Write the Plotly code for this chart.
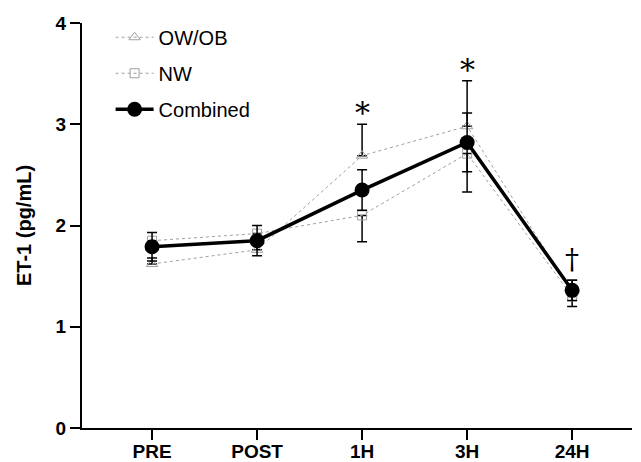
import plotly.graph_objects as go

# ---- data ----
timepoints = ["PRE", "POST", "1H", "3H", "24H"]
combined = [1.79, 1.85, 2.35, 2.82, 1.36]
combined_err = [0.14, 0.15, 0.20, 0.29, 0.10]
ow_ob = [1.62, 1.76, 2.69, 2.98, 1.34]
ow_ob_err = [0.06, 0.08, 0.31, 0.45, 0.12]
nw = [1.85, 1.92, 2.10, 2.71, 1.30]
nw_err = [0.08, 0.08, 0.26, 0.38, 0.10]
sig_marks = ["", "", "*", "*", "†"]

FONT = "Arial, Liberation Sans, sans-serif"
xs = list(range(len(timepoints)))

fig = go.Figure()

fig.add_trace(go.Scatter(
    x=xs, y=ow_ob, name="OW/OB", mode="lines+markers",
    line=dict(color="#a0a0a0", width=1, dash="dot"),
    marker=dict(symbol="triangle-up-open", size=10, color="#a0a0a0", line=dict(width=1)),
    error_y=dict(type="data", symmetric=False, array=ow_ob_err,
                 arrayminus=[0] * len(ow_ob), color="black", thickness=1.5, width=5),
    legendgroup="a",
))
fig.add_trace(go.Scatter(
    x=xs, y=nw, name="NW", mode="lines+markers",
    line=dict(color="#a0a0a0", width=1, dash="dot"),
    marker=dict(symbol="square-open", size=9, color="#a0a0a0", line=dict(width=1)),
    error_y=dict(type="data", symmetric=False, array=[0] * len(nw),
                 arrayminus=nw_err, color="black", thickness=1.5, width=5),
    legendgroup="b",
))
fig.add_trace(go.Scatter(
    x=xs, y=combined, name="Combined", mode="lines+markers",
    line=dict(color="black", width=3.5),
    marker=dict(symbol="circle", size=15, color="black"),
    error_y=dict(type="data", array=combined_err, color="black", thickness=1.5, width=5),
    legendgroup="c",
))

# significance marks above the highest error bar
for i, m in enumerate(sig_marks):
    if not m:
        continue
    top = max(ow_ob[i] + ow_ob_err[i], combined[i] + combined_err[i])
    if m == "*":
        fig.add_annotation(x=xs[i], y=top, text=m, showarrow=False,
                           yanchor="bottom", yshift=-8,
                           font=dict(family="DejaVu Serif", size=30, color="black"))
    else:
        fig.add_annotation(x=xs[i], y=top, text=m, showarrow=False,
                           yanchor="bottom", yshift=2,
                           font=dict(family="DejaVu Serif", size=28, color="black"))

# page has an 8px body margin, so the figure is sized to end at the window edge
fig.update_layout(
    width=633, height=454,
    margin=dict(l=74, r=9, t=15, b=34),
    paper_bgcolor="white", plot_bgcolor="white",
    font=dict(family=FONT, color="black"),
    showlegend=True,
    legend=dict(x=0.052, y=1.013, xanchor="left", yanchor="top",
                font=dict(family=FONT, size=20, color="black"),
                bgcolor="rgba(0,0,0,0)", traceorder="grouped",
                tracegroupgap=7, itemwidth=38),
    xaxis=dict(
        range=[-0.667, 4.57], tickmode="array", tickvals=xs, ticktext=timepoints,
        showline=True, linecolor="black", linewidth=2,
        ticks="outside", ticklen=10, tickwidth=2, tickcolor="black",
        ticklabelstandoff=-5,
        tickfont=dict(family=FONT, size=19, color="black", weight="bold"),
        showgrid=False, zeroline=False, automargin=False,
    ),
    yaxis=dict(
        range=[0, 4], tickvals=[0, 1, 2, 3, 4],
        showline=True, linecolor="black", linewidth=2,
        ticks="outside", ticklen=10, tickwidth=2, tickcolor="black",
        tickfont=dict(family=FONT, size=19, color="black", weight="bold"),
        title=dict(text="ET-1 (pg/mL)", standoff=19,
                   font=dict(family=FONT, size=20, color="black", weight="bold")),
        showgrid=False, zeroline=False, automargin=False,
    ),
)

fig.write_html("out.html")
